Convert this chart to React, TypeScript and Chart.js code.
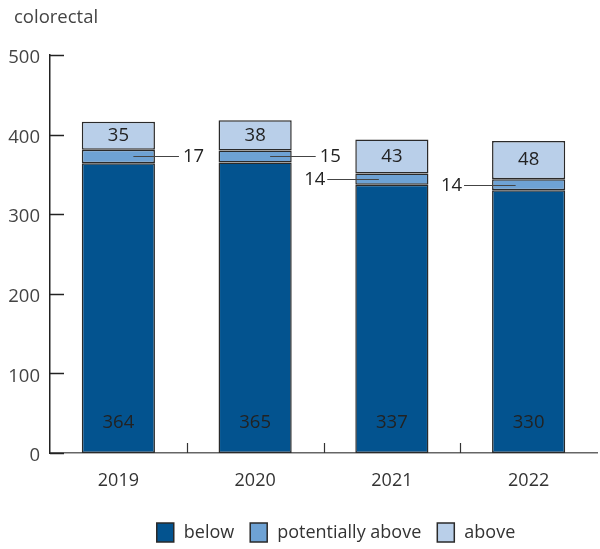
import { useEffect, useRef } from "react";
import { Chart, registerables } from "chart.js";

Chart.register(...registerables);

const categories = ["2019", "2020", "2021", "2022"];
const below = [364, 365, 337, 330];
const potentiallyAbove = [17, 15, 14, 14];
const above = [35, 38, 43, 48];
const yTicks = [0, 100, 200, 300, 400, 500];
const leaderSide = ["right", "right", "left", "left"];
const seriesNames = ["below", "potentially above", "above"];
const seriesColors = ["#03538f", "#6ea2d4", "#b9cfe9"];
const chartTitle = "colorectal";

const FONT = "'Open Sans', sans-serif";
const TEXT = "#333333";
const EDGE = "#2a2a2a";

export default function App() {
  const ref = useRef<HTMLCanvasElement>(null);

  useEffect(() => {
    const canvas = ref.current!;

    const decor = {
      id: "decor",
      afterDatasetsDraw(chart: any) {
        const ctx = chart.ctx as CanvasRenderingContext2D;
        const xs = chart.scales.x;
        const ys = chart.scales.y;
        const area = chart.chartArea;
        ctx.save();

        // inward y ticks
        ctx.strokeStyle = "#222";
        ctx.lineWidth = 1.5;
        ys.ticks.forEach((t: any) => {
          const py = Math.round(ys.getPixelForValue(t.value)) + 0.5;
          ctx.beginPath();
          ctx.moveTo(area.left, py);
          ctx.lineTo(area.left + 14, py);
          ctx.stroke();
        });

        // category separators on x axis
        ctx.strokeStyle = "#333";
        ctx.lineWidth = 1.2;
        for (let i = 0; i < categories.length - 1; i++) {
          const px = Math.round((xs.getPixelForValue(i) + xs.getPixelForValue(i + 1)) / 2) + 0.5;
          ctx.beginPath();
          ctx.moveTo(px, area.bottom);
          ctx.lineTo(px, area.bottom - 10);
          ctx.stroke();
        }

        // value labels
        ctx.font = `18.5px ${FONT}`;
        ctx.fillStyle = "#222";
        ctx.textBaseline = "middle";
        const m0 = chart.getDatasetMeta(0);
        const m1 = chart.getDatasetMeta(1);
        const m2 = chart.getDatasetMeta(2);
        m0.data.forEach((el: any, i: number) => {
          ctx.textAlign = "center";
          ctx.fillText(String(below[i]), el.x, el.base - 30);
        });
        m2.data.forEach((el: any, i: number) => {
          ctx.textAlign = "center";
          ctx.fillText(String(above[i]), el.x, (el.y + el.base) / 2);
        });
        m1.data.forEach((el: any, i: number) => {
          const cy = Math.round((el.y + el.base) / 2) + 0.5;
          const half = el.width / 2;
          ctx.strokeStyle = "#444";
          ctx.lineWidth = 1;
          ctx.beginPath();
          if (leaderSide[i] === "right") {
            ctx.moveTo(el.x + 15, cy);
            ctx.lineTo(el.x + half + 24, cy);
            ctx.stroke();
            ctx.textAlign = "left";
            ctx.fillText(String(potentiallyAbove[i]), el.x + half + 28, cy);
          } else {
            ctx.moveTo(el.x - half - 28, cy);
            ctx.lineTo(el.x - 13, cy);
            ctx.stroke();
            ctx.textAlign = "right";
            ctx.fillText(String(potentiallyAbove[i]), el.x - half - 30, cy);
          }
        });
        ctx.restore();
      },
      afterDraw(chart: any) {
        const ctx = chart.ctx as CanvasRenderingContext2D;
        ctx.save();
        ctx.font = `18.5px ${FONT}`;
        ctx.fillStyle = "#444";
        ctx.textBaseline = "middle";
        ctx.textAlign = "left";
        ctx.fillText(chartTitle, 14, 18);

        // legend
        ctx.font = `18px ${FONT}`;
        const boxW = 17;
        const boxH = 19;
        const gapText = 10;
        const gapItem = 16;
        const widths = seriesNames.map((n) => boxW + gapText + ctx.measureText(n).width);
        const total = widths.reduce((a, b) => a + b, 0) + gapItem * (widths.length - 1);
        let x = 336 - total / 2;
        const top = 523;
        seriesNames.forEach((n, i) => {
          ctx.fillStyle = seriesColors[i];
          ctx.fillRect(x, top, boxW, boxH);
          ctx.strokeStyle = EDGE;
          ctx.lineWidth = 1.5;
          ctx.strokeRect(x, top, boxW, boxH);
          ctx.fillStyle = TEXT;
          ctx.fillText(n, x + boxW + gapText, top + boxH / 2 + 0.5);
          x += widths[i] + gapItem;
        });
        ctx.restore();
      },
    };

    const chart = new Chart(canvas, {
      type: "bar",
      data: {
        labels: categories,
        datasets: [
          { label: seriesNames[0], data: below },
          { label: seriesNames[1], data: potentiallyAbove },
          { label: seriesNames[2], data: above },
        ].map((d, i) => ({
          ...d,
          backgroundColor: seriesColors[i],
          borderColor: EDGE,
          borderWidth: 1.5,
          borderSkipped: false,
          categoryPercentage: 1,
          barPercentage: 0.535,
        })),
      },
      options: {
        responsive: false,
        animation: false,
        layout: { padding: { top: 55, right: 3, left: 0, bottom: 56 } },
        plugins: {
          legend: { display: false },
          tooltip: { enabled: false },
          title: { display: false },
        },
        scales: {
          x: {
            stacked: true,
            grid: { display: false, drawTicks: false },
            border: { display: true, color: "#666", width: 1.5 },
            ticks: { font: { family: FONT, size: 18 }, color: TEXT, padding: 17 },
            afterFit: (s: any) => {
              s.height = 40;
            },
          },
          y: {
            stacked: true,
            min: 0,
            max: 500,
            grid: { display: false, drawTicks: false },
            border: { display: true, color: "#222", width: 1.5 },
            ticks: { font: { family: FONT, size: 18.5 }, color: "#444", padding: 10, labelOffset: 3 },
            afterBuildTicks: (s: any) => {
              s.ticks = yTicks.map((v) => ({ value: v }));
            },
            afterFit: (s: any) => {
              s.width = 50;
            },
          },
        },
      },
      plugins: [decor],
    });

    return () => chart.destroy();
  }, []);

  return (
    <div style={{ position: "fixed", left: 0, top: 0, width: 600, height: 549, background: "#fff" }}>
      <canvas ref={ref} width={600} height={549} />
    </div>
  );
}
